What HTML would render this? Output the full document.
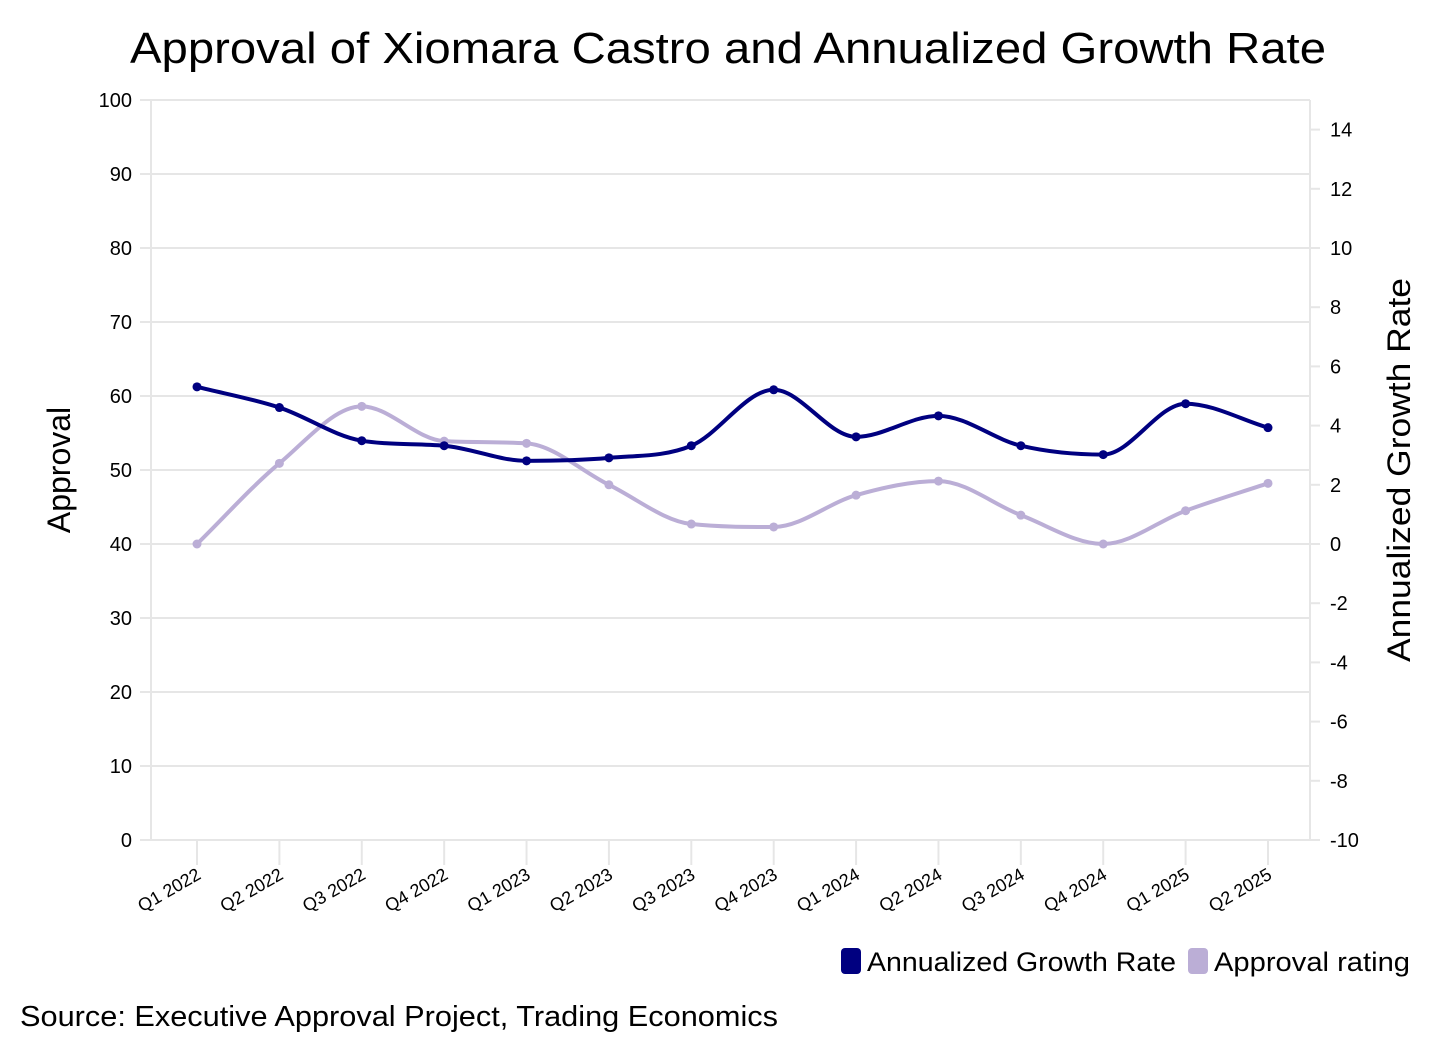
<!DOCTYPE html>
<html><head><meta charset="utf-8"><style>
body{margin:0;background:#fff;font-family:"Liberation Sans",sans-serif;}
svg text{font-family:"Liberation Sans",sans-serif;}
</style></head><body>
<svg id="chart" width="1456" height="1054" xmlns="http://www.w3.org/2000/svg">
<text x="130" y="63" textLength="1196" lengthAdjust="spacingAndGlyphs" font-size="44" fill="#000">Approval of Xiomara Castro and Annualized Growth Rate</text>
<g id="grid"></g><g id="axes"></g><g id="series"></g>
<text transform="translate(70,470) rotate(-90)" text-anchor="middle" font-size="32" fill="#000">Approval</text>
<text transform="translate(1410,470) rotate(-90)" text-anchor="middle" font-size="32" textLength="384" lengthAdjust="spacingAndGlyphs" fill="#000">Annualized Growth Rate</text>
<g>
<g><rect x="841" y="948" width="20" height="26" rx="4" fill="#000080"/><text x="867" y="971" font-size="27" textLength="309" lengthAdjust="spacingAndGlyphs" fill="#000">Annualized Growth Rate</text></g>
<g><rect x="1188" y="948" width="20" height="26" rx="4" fill="#bbaed6"/><text x="1214" y="971" font-size="27" textLength="196" lengthAdjust="spacingAndGlyphs" fill="#000">Approval rating</text></g>
</g>
<text x="20" y="1026" font-size="29" textLength="758" lengthAdjust="spacingAndGlyphs" fill="#000">Source: Executive Approval Project, Trading Economics</text>
</svg>
<script>
const categories=["Q1 2022","Q2 2022","Q3 2022","Q4 2022","Q1 2023","Q2 2023","Q3 2023","Q4 2023","Q1 2024","Q2 2024","Q3 2024","Q4 2024","Q1 2025","Q2 2025"];
const growth=[5.31,4.61,3.49,3.32,2.81,2.91,3.32,5.21,3.62,4.33,3.32,3.02,4.74,3.93];
const approval=[40,50.9,58.6,53.9,53.6,48,42.7,42.3,46.6,48.5,43.9,40,44.5,48.2];
const leftTicks=[0,10,20,30,40,50,60,70,80,90,100];
const rightTicks=[-10,-8,-6,-4,-2,0,2,4,6,8,10,12,14];
const NS="http://www.w3.org/2000/svg";
const yL=v=>840-v*7.4;
const yR=v=>840-(v+10)*29.6;
const x=i=>197+i*(1268-197)/(categories.length-1);
function mk(t,a,p){const e=document.createElementNS(NS,t);for(const k in a)e.setAttribute(k,a[k]);p.appendChild(e);return e;}
const grid=document.getElementById('grid'),axes=document.getElementById('axes'),ser=document.getElementById('series');
leftTicks.forEach(v=>{const l=mk('line',{x1:140,x2:1310,y1:yL(v),y2:yL(v),stroke:'#e6e6e6','stroke-width':2},grid);


const t=mk('text',{x:132,y:yL(v)+7,'text-anchor':'end','font-size':20,fill:'#000'},axes);t.textContent=v;

});
rightTicks.forEach(v=>{mk('line',{x1:1310,x2:1320,y1:yR(v),y2:yR(v),stroke:'#e6e6e6','stroke-width':2},grid);
const t=mk('text',{x:1330,y:yR(v)+7,'font-size':20,fill:'#000'},axes);t.textContent=v;

});
mk('line',{x1:151,x2:151,y1:100,y2:840,stroke:'#e6e6e6','stroke-width':2},grid);
mk('line',{x1:1310,x2:1310,y1:100,y2:840,stroke:'#e6e6e6','stroke-width':2},grid);
categories.forEach((c,i)=>{mk('line',{x1:x(i),x2:x(i),y1:840,y2:865,stroke:'#e6e6e6','stroke-width':2},grid);
const t=mk('text',{transform:`translate(${x(i)+5},878) rotate(-30)`,'text-anchor':'end','font-size':18,fill:'#000'},axes);t.textContent=c;

});
function mono(pts){const n=pts.length,d=[],m=[];for(let i=0;i<n-1;i++)d.push((pts[i+1][1]-pts[i][1])/(pts[i+1][0]-pts[i][0]));
m[0]=d[0];m[n-1]=d[n-2];for(let i=1;i<n-1;i++)m[i]=d[i-1]*d[i]<=0?0:(d[i-1]+d[i])/2;
for(let i=0;i<n-1;i++){if(d[i]===0){m[i]=m[i+1]=0;continue;}const a=m[i]/d[i],b=m[i+1]/d[i],s=a*a+b*b;if(s>9){const t=3/Math.sqrt(s);m[i]=t*a*d[i];m[i+1]=t*b*d[i];}}
let p=`M${pts[0][0]},${pts[0][1]}`;for(let i=0;i<n-1;i++){const h=(pts[i+1][0]-pts[i][0])/3;p+=`C${pts[i][0]+h},${pts[i][1]+m[i]*h} ${pts[i+1][0]-h},${pts[i+1][1]-m[i+1]*h} ${pts[i+1][0]},${pts[i+1][1]}`;}return p;}
function draw(vals,sc,col,name){const pts=vals.map((v,i)=>[x(i),sc(v)]);
const p=mk('path',{d:mono(pts),fill:'none',stroke:col,'stroke-width':4},ser);


pts.forEach(q=>{const c=mk('circle',{cx:q[0],cy:q[1],r:4.5,fill:col},ser);

});}
draw(approval,yL,'#bbaed6','approval');
draw(growth,yR,'#000080','growth');
</script>
</body></html>
